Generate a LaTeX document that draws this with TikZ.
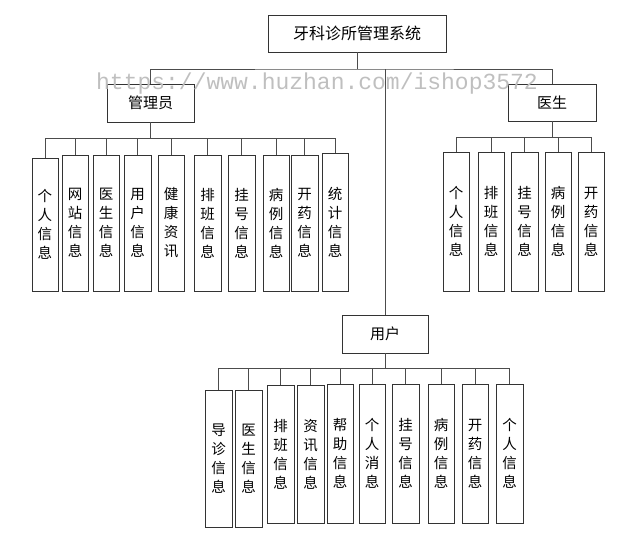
\documentclass[tikz,border=0pt]{standalone}
\usepackage{fontspec}
\setmainfont{Noto Sans CJK SC}
\newfontfamily\wmfont{Liberation Mono}
\begin{document}
\begin{tikzpicture}[x=1pt,y=-1pt,
  box/.style={draw=black!80,line width=0.9pt,inner sep=0pt,font=\fontsize{14.5}{19}\selectfont,align=center},
  ln/.style={draw=black!70,line width=1pt}]
\useasboundingbox (0,0) rectangle (632,533);
\newcommand\leaf[6]{\node[box,minimum width={#3-#2},minimum height={#5-#4}] (#1) at ({(#2+#3)/2},{(#4+#5)/2}) {#6};}
% top
\leaf{root}{268}{446}{15}{52}{\fontsize{16}{18}\selectfont 牙科诊所管理系统}
\leaf{adm}{107}{194}{84}{122}{\fontsize{15}{17}\selectfont 管理员}
\leaf{doc}{508}{596}{84}{121}{\fontsize{15}{17}\selectfont 医生}
\leaf{usr}{342}{428}{315}{353}{\fontsize{15}{17}\selectfont 用户}
\coordinate (b0) at (0,69);
\draw[ln] (root.south) -- (root.south |- b0);
\draw[ln] (adm.north) |- (b0 -| root.south) -| (doc.north);
\draw[ln] (usr.north) -- (usr.north |- b0);
% admin
\foreach \n/\a/\b/\t/\s in {a1/32/58/158/个\\人\\信\\息, a2/62/88/155/网\\站\\信\\息, a3/93/119/155/医\\生\\信\\息, a4/124/151/155/用\\户\\信\\息, a5/158/184/155/健\\康\\资\\讯, a6/194/221/155/排\\班\\信\\息, a7/228/255/155/挂\\号\\信\\息, a8/263/289/155/病\\例\\信\\息, a9/291/318/155/开\\药\\信\\息, a10/322/348/153/统\\计\\信\\息}{
  \leaf{\n}{\a}{\b}{\t}{291}{\s}
}
\coordinate (b1) at (0,138);
\draw[ln] (adm.south) -- (adm.south |- b1);
\draw[ln] (a1.north |- b1) -- (a10.north |- b1);
\foreach \n in {a1,a2,a3,a4,a5,a6,a7,a8,a9,a10}{\draw[ln] (\n.north) -- (\n.north |- b1);}
% doctor
\foreach \n/\a/\b/\s in {d1/443/469/个\\人\\信\\息, d2/478/504/排\\班\\信\\息, d3/511/538/挂\\号\\信\\息, d4/545/571/病\\例\\信\\息, d5/578/604/开\\药\\信\\息}{
  \leaf{\n}{\a}{\b}{152}{291}{\s}
}
\coordinate (b2) at (0,137);
\draw[ln] (doc.south) -- (doc.south |- b2);
\draw[ln] (d1.north |- b2) -- (d5.north |- b2);
\foreach \n in {d1,d2,d3,d4,d5}{\draw[ln] (\n.north) -- (\n.north |- b2);}
% user
\foreach \n/\a/\b/\t/\e/\s in {u1/205/232/390/527/导\\诊\\信\\息, u2/235/262/390/527/医\\生\\信\\息, u3/267/294/385/523/排\\班\\信\\息, u4/297/324/385/523/资\\讯\\信\\息, u5/327/353/384/523/帮\\助\\信\\息, u6/359/385/384/523/个\\人\\消\\息, u7/392/419/384/523/挂\\号\\信\\息, u8/428/454/384/523/病\\例\\信\\息, u9/462/488/384/523/开\\药\\信\\息, u10/496/523/384/523/个\\人\\信\\息}{
  \leaf{\n}{\a}{\b}{\t}{\e}{\s}
}
\coordinate (b3) at (0,368);
\draw[ln] (usr.south) -- (usr.south |- b3);
\draw[ln] (u1.north |- b3) -- (u10.north |- b3);
\foreach \n in {u1,u2,u3,u4,u5,u6,u7,u8,u9,u10}{\draw[ln] (\n.north) -- (\n.north |- b3);}
% watermark
\node[text=black!25,font=\wmfont\fontsize{23}{23}\selectfont,inner sep=0pt] (wm) at (317,84) {https://www.huzhan.com/ishop3572};
\end{tikzpicture}
\end{document}
